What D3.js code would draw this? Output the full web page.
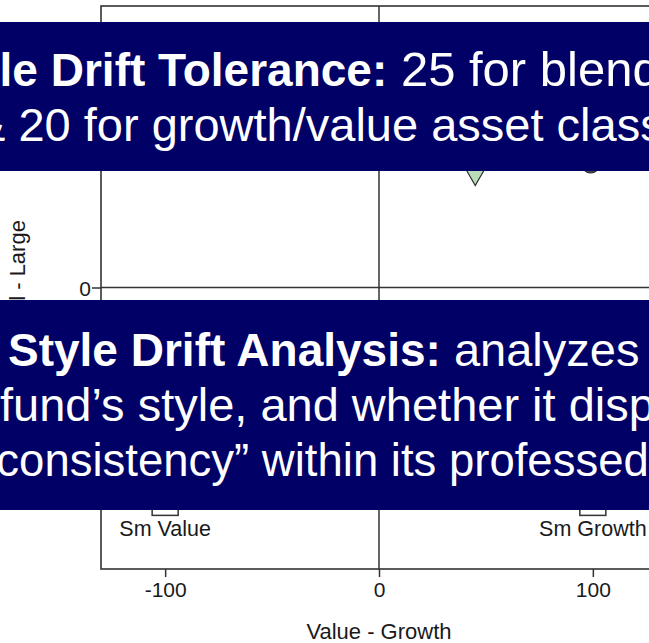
<!DOCTYPE html>
<html>
<head>
<meta charset="utf-8">
<script src="https://cdn.jsdelivr.net/npm/d3@7"></script>
<style>
  body { margin: 0; background: #fff; }
  svg { display: block; font-family: "Liberation Sans", Arial, sans-serif; }
</style>
</head>
<body>
<script>
const W = 649
const H = 643

// axis ticks
const xTicks = [-100, 0, 100]
const yTicks = [0]

// style corner boxes (large ones sit under the top note)
const cornerNames = ["Lg Value", "Lg Growth", "Sm Value", "Sm Growth"]
const cornerX = [-100, 100, -100, 100]
const cornerY = [100, 100, -100, -100]
const cornerLabel = [false, false, true, true]

// plotted funds
const fundNames = ["Benchmark", "Fund"]
const fundX = [45, 99]
const fundY = [55, 58]
const fundShape = ["triangle", "circle"]
const fundFill = ["#b9dcb9", "#3b4660"]

// overlay text boxes
const noteTop = [
  [["Style Drift Tolerance:", true], [" 25 for blended", false]],
  [["& 20 for growth/value asset classes", false]]
]
const noteBottom = [
  [["Style Drift Analysis:", true], [" analyzes the", false]],
  [["fund\u2019s style, and whether it displays", false]],
  [["\u201cstyle consistency\u201d within its professed style", false]]
]

const x = d3.scaleLinear().domain([-130, 130]).range([101, 657])
const y = d3.scaleLinear().domain([-131, 131]).range([569, 6])

const svg = d3.select('body')
  .append('svg')
  .attr('width', W)
  .attr('height', H)

const ink = '#333'
const txt = '#1a1a1a'

// frame
svg.append('rect')
  .attr('x', x(-130))
  .attr('y', y(131))
  .attr('width', x(130) - x(-130))
  .attr('height', y(-131) - y(131))
  .attr('fill', 'none')
  .attr('stroke', ink)
  .attr('stroke-width', 1.6)

// zero lines
svg.append('line')
  .attr('x1', x(0)).attr('x2', x(0))
  .attr('y1', y(131)).attr('y2', y(-131))
  .attr('stroke', ink).attr('stroke-width', 1.5)
svg.append('line')
  .attr('x1', x(-130)).attr('x2', x(130))
  .attr('y1', y(0)).attr('y2', y(0))
  .attr('stroke', ink).attr('stroke-width', 1.5)

// axes
const xAxis = svg.append('g')
  .attr('transform', `translate(0,${y(-131)})`)
  .call(d3.axisBottom(x).tickValues(xTicks).tickSize(8).tickPadding(5).tickFormat(d => String(d)))
const yAxis = svg.append('g')
  .attr('transform', `translate(${x(-130)},0)`)
  .call(d3.axisLeft(y).tickValues(yTicks).tickSize(9).tickPadding(1).tickFormat(d => String(d)))

;[xAxis, yAxis].forEach(a => {
  a.select('.domain').remove()
  a.selectAll('line').attr('stroke', ink).attr('stroke-width', 1.5)
  a.selectAll('text')
    .attr('fill', txt)
    .style('font-size', '21px')
    .style('font-family', '"Liberation Sans", Arial, sans-serif')
})
yAxis.selectAll('text').attr('dy', '0.4em')

svg.append('text')
  .attr('x', x(0))
  .attr('y', 639)
  .attr('text-anchor', 'middle')
  .attr('fill', txt)
  .style('font-size', '22px')
  .text('Value - Growth')

svg.append('text')
  .attr('transform', `translate(25,${(y(131) + y(-131)) / 2 - 2}) rotate(-90)`)
  .attr('text-anchor', 'middle')
  .attr('fill', txt)
  .style('font-size', '22px')
  .text('Small - Large')

// corner squares
const corners = svg.append('g')
  .selectAll('g')
  .data(cornerNames)
  .enter()
  .append('g')
  .attr('transform', (d, i) => `translate(${x(cornerX[i])},${y(cornerY[i])})`)

corners.append('rect')
  .attr('x', -13).attr('y', -13)
  .attr('width', 26).attr('height', 26)
  .attr('fill', '#fff')
  .attr('stroke', ink)
  .attr('stroke-width', 1.5)

corners.filter((d, i) => cornerLabel[i])
  .append('text')
  .attr('text-anchor', 'middle')
  .attr('y', 34)
  .attr('fill', txt)
  .style('font-size', '21.5px')
  .text(d => d)

// funds
const sym = d3.symbol()
svg.append('g')
  .selectAll('path')
  .data(fundNames)
  .enter()
  .append('path')
  .attr('transform', (d, i) => `translate(${x(fundX[i])},${y(fundY[i])})` + (fundShape[i] === 'triangle' ? ' rotate(180)' : ''))
  .attr('d', (d, i) => fundShape[i] === 'triangle'
    ? sym.type(d3.symbolTriangle).size(340)()
    : sym.type(d3.symbolCircle).size(Math.PI * 100)())
  .attr('fill', (d, i) => fundFill[i])
  .attr('stroke', '#2a2a2a')
  .attr('stroke-width', 1.2)

// overlay notes
const drawNote = (lines, top, height, starts, baselines, sizes) => {
  svg.append('rect')
    .attr('x', -5).attr('y', top)
    .attr('width', W + 10).attr('height', height)
    .attr('fill', '#000066')
  lines.forEach((parts, i) => {
    const t = svg.append('text')
      .attr('x', starts[i])
      .attr('y', baselines[i])
      .attr('fill', '#fff')
    parts.forEach(p => {
      t.append('tspan')
        .attr('font-weight', p[1] ? 'bold' : 'normal')
        .style('font-size', (p[1] ? 46 : sizes[i]) + 'px')
        .text(p[0])
    })
  })
}

drawNote(noteTop, 22, 149, [-72, -26], [86, 141], [49, 47])
drawNote(noteBottom, 300, 210, [8, 0, -125], [366, 421, 476], [47, 47, 45.5])
</script>
</body>
</html>
